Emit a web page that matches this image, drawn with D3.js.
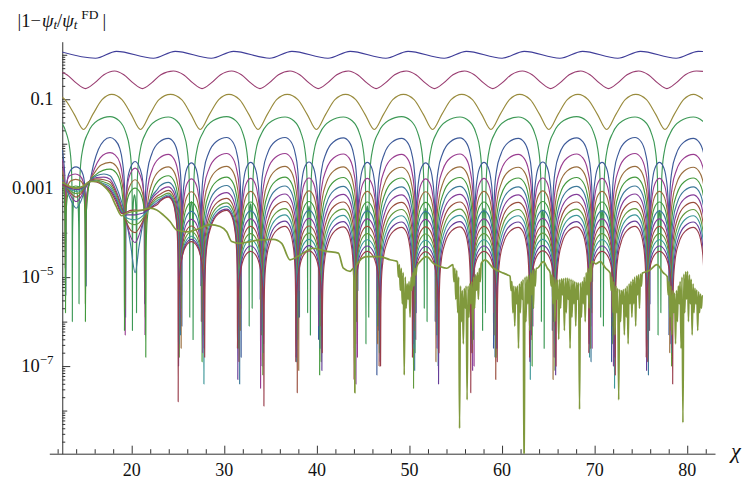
<!DOCTYPE html>
<html>
<head>
<meta charset="utf-8">
<script src="https://cdn.jsdelivr.net/npm/d3@7/dist/d3.min.js"></script>
<style>
html,body{margin:0;padding:0;background:#fff;}
svg{display:block;}
</style>
</head>
<body>
<svg id="chart" width="745" height="479"></svg>
<script>
// ================= values =================
const chiRange = [11.1, 83.0];            // horizontal plot range (chi)
const logRange = [-8.97, 0.294];          // vertical plot range, log10 |1 - psi_t/psi_t^FD|
const chiFirst = 12.5, chiLast = 81.7;    // sampled interval of all curves

const xMajorTicks = [20, 30, 40, 50, 60, 70, 80];
const xMinorTicks = [12,14,16,18,22,24,26,28,32,34,36,38,42,44,46,48,52,54,56,58,62,64,66,68,72,74,76,78,82];
const yLabelTicks = [1e-1, 1e-3, 1e-5, 1e-7];
const yTickLabels = [["0.1", ""], ["0.001", ""], ["10", "\u22125"], ["10", "\u22127"]];
const yOtherDecades = [1e0, 1e-2, 1e-4, 1e-6, 1e-8];
const yMinorMantissas = [2, 3, 4, 5, 6, 7, 8, 9];
const yMinorDecades = [1e-9, 1e-8, 1e-7, 1e-6, 1e-5, 1e-4, 1e-3, 1e-2, 1e-1, 1e0];

// curve 0 (top, blue): [chi, log10 value] at extrema
const curve0 = [12.2,0.078, 16.1,-0.078, 18.35,0.078, 22.35,-0.078, 24.7,0.078, 28.6,-0.078, 31.0,0.078,
  34.9,-0.078, 37.3,0.078, 41.2,-0.078, 43.6,0.078, 47.45,-0.078, 49.85,0.078, 53.75,-0.078, 56.15,0.078,
  60.0,-0.078, 62.4,0.078, 66.25,-0.078, 68.7,0.078, 72.5,-0.078, 74.95,0.078, 78.8,-0.078, 81.2,0.078, 82.5,0.06];

// curve 1 (magenta)
const curve1 = [12.0,-0.364, 13.0,-0.447, 14.0,-0.632, 15.0,-0.76, 16.0,-0.632, 17.0,-0.447, 18.15,-0.364,
  19.15,-0.447, 20.15,-0.632, 21.15,-0.76, 22.15,-0.632, 23.15,-0.447, 24.5,-0.364, 25.6,-0.447, 26.6,-0.632,
  27.6,-0.76, 28.6,-0.632, 29.6,-0.447, 30.8,-0.364, 31.85,-0.447, 32.85,-0.632, 33.85,-0.76, 34.85,-0.632,
  35.85,-0.447, 37.1,-0.364, 38.15,-0.447, 39.15,-0.632, 40.15,-0.76, 41.15,-0.632, 42.15,-0.447, 43.4,-0.364,
  44.4,-0.447, 45.4,-0.632, 46.4,-0.76, 47.4,-0.632, 48.4,-0.447, 49.65,-0.364, 50.7,-0.447, 51.7,-0.632,
  52.7,-0.76, 53.7,-0.632, 54.7,-0.447, 55.95,-0.364, 57.0,-0.447, 58.0,-0.632, 59.0,-0.76, 60.0,-0.632,
  61.0,-0.447, 62.2,-0.364, 63.25,-0.447, 64.25,-0.632, 65.25,-0.76, 66.25,-0.632, 67.25,-0.447, 68.5,-0.364,
  69.5,-0.447, 70.5,-0.632, 71.5,-0.76, 72.5,-0.632, 73.5,-0.447, 74.75,-0.364, 75.8,-0.447, 76.8,-0.632,
  77.8,-0.76, 78.8,-0.632, 79.8,-0.447, 81.0,-0.364, 82.0,-0.38];

// curve 2 (gold)
const curve2 = [11.7,-0.89, 12.8,-1.01, 13.8,-1.34, 14.8,-1.68, 15.8,-1.34, 16.8,-1.01, 17.85,-0.89,
  18.95,-1.01, 19.95,-1.34, 20.95,-1.68, 21.95,-1.34, 22.95,-1.01, 24.2,-0.89, 25.4,-1.01, 26.4,-1.34,
  27.4,-1.68, 28.4,-1.34, 29.4,-1.01, 30.5,-0.89, 31.65,-1.01, 32.65,-1.34, 33.65,-1.68, 34.65,-1.34,
  35.65,-1.01, 36.8,-0.89, 37.95,-1.01, 38.95,-1.34, 39.95,-1.68, 40.95,-1.34, 41.95,-1.01, 43.1,-0.89,
  44.2,-1.01, 45.2,-1.34, 46.2,-1.68, 47.2,-1.34, 48.2,-1.01, 49.35,-0.89, 50.5,-1.01, 51.5,-1.34,
  52.5,-1.68, 53.5,-1.34, 54.5,-1.01, 55.65,-0.89, 56.8,-1.01, 57.8,-1.34, 58.8,-1.68, 59.8,-1.34,
  60.8,-1.01, 61.9,-0.89, 63.05,-1.01, 64.05,-1.34, 65.05,-1.68, 66.05,-1.34, 67.05,-1.01, 68.2,-0.89,
  69.3,-1.01, 70.3,-1.34, 71.3,-1.68, 72.3,-1.34, 73.3,-1.01, 74.45,-0.89, 75.6,-1.01, 76.6,-1.34,
  77.6,-1.68, 78.6,-1.34, 79.6,-1.01, 80.7,-0.89, 81.8,-1.01];

// oscillation landmarks
const bigTopChi   = [17.66, 23.96, 30.26, 36.56, 42.86, 49.16, 55.46, 61.76, 68.06, 74.36, 80.66];
const smallMidChi = [13.95, 20.37, 26.45, 32.85, 39.15, 45.45, 51.75, 58.05, 64.4, 70.8, 77.0, 83.3];
// measured arch profile: fraction of the half-arch from a zero, and drop (decades) below the top
const archFrac = [0.012, 0.04, 0.12, 0.3, 0.6];
const archDrop = [-1.8, -1.2, -0.73, -0.35, -0.09];

// curve 3 (green, outer arches)
const g3TopChi  = [11.36, 17.66, 23.96, 30.26, 36.56, 42.86, 49.16, 55.46, 61.76, 68.06, 74.36, 80.66];
const g3TopL    = [-1.40, -1.39, -1.40, -1.39, -1.40, -1.40, -1.39, -1.40, -1.40, -1.39, -1.40, -1.40];
const g3ZeroMid = [7.65, 13.95, 20.3, 26.45, 32.85, 39.15, 45.45, 51.75, 58.05, 64.4, 70.8, 77.0, 83.3];
const g3HalfGap = [0.15, 0.36, 0.22, 0.18, 0.16, 0.15, 0.15, 0.15, 0.15, 0.15, 0.15, 0.15, 0.15];
const g3TinyL   = [-3.3, -3.0, -3.15, -3.3, -3.35, -3.4, -3.4, -3.45, -3.45, -3.5, -3.5, -3.5, -3.5];
const g3SpikeL  = [[-5.0,-5.2],[-6.0,-5.6],[-6.2,-5.8],[-5.9,-6.4],[-6.1,-5.7],[-5.8,-6.3],[-6.5,-5.9],
  [-5.7,-6.0],[-6.2,-5.8],[-6.0,-6.6],[-5.9,-6.1],[-6.3,-5.8],[-5.5,-5.5]];

// curves 4..14 (nested arches): start of the plot, read point by point
const nestStart = [
  [12.5,-2.14, 12.65,-2.38, 12.78,-2.75, 12.85,-3.3, 12.88,-5.4, 12.91,-3.3, 12.98,-2.95, 13.2,-2.68, 13.6,-2.55, 14.0,-2.52, 14.4,-2.56, 14.75,-2.7, 14.95,-3.0, 15.05,-3.5, 15.08,-5.2, 15.11,-3.5, 15.2,-3.1, 15.5,-2.84, 15.9,-2.45, 16.4,-2.13, 17.0,-1.93, 17.66,-1.86, 18.2,-1.92, 18.7,-2.1, 19.0,-2.4, 19.2,-2.85, 19.3,-3.5, 19.34,-5.9, 19.38,-3.5, 19.5,-2.9, 19.8,-2.58, 20.37,-2.40, 20.9,-2.56, 21.2,-2.85, 21.33,-3.3],
  [12.5,-2.35, 12.65,-2.6, 12.78,-3.1, 12.83,-4.8, 12.88,-3.1, 13.0,-2.85, 13.3,-2.72, 13.9,-2.68, 14.4,-2.72, 14.75,-2.85, 14.95,-3.2, 15.03,-4.6, 15.1,-3.3, 15.25,-3.0, 15.5,-2.84, 16.0,-2.55, 16.6,-2.32, 17.2,-2.22, 17.66,-2.20, 18.2,-2.25, 18.7,-2.42, 19.0,-2.72, 19.2,-3.2, 19.27,-3.8, 19.30,-6.3, 19.33,-3.8, 19.45,-3.1, 19.8,-2.7, 20.37,-2.55, 20.9,-2.7, 21.25,-3.0, 21.38,-3.5],
  [12.5,-2.6, 12.7,-2.9, 12.8,-3.5, 12.84,-5.0, 12.9,-3.4, 13.05,-3.0, 13.4,-2.84, 13.95,-2.80, 14.5,-2.84, 14.85,-3.0, 14.97,-3.5, 15.0,-5.6, 15.06,-3.5, 15.25,-3.05, 15.5,-2.84, 16.0,-2.65, 16.7,-2.48, 17.66,-2.42, 18.3,-2.5, 18.8,-2.75, 19.1,-3.1, 19.22,-3.6, 19.26,-5.7, 19.3,-3.6, 19.45,-3.2, 19.8,-2.95, 20.37,-2.81, 20.9,-2.95, 21.3,-3.25, 21.43,-3.7],
  [12.5,-2.75, 12.7,-3.1, 12.8,-3.7, 12.85,-5.8, 12.9,-3.6, 13.1,-3.15, 13.5,-3.0, 13.95,-2.95, 14.5,-3.0, 14.85,-3.2, 14.97,-3.8, 15.0,-6.0, 15.05,-3.8, 15.25,-3.15, 15.5,-2.84, 16.1,-2.7, 16.9,-2.6, 17.66,-2.57, 18.3,-2.65, 18.8,-2.9, 19.05,-3.3, 19.18,-3.9, 19.22,-6.2, 19.27,-3.9, 19.45,-3.35, 19.8,-3.1, 20.37,-3.0, 20.9,-3.1, 21.3,-3.4, 21.46,-3.9],
  [12.5,-2.8, 13.0,-3.05, 13.5,-3.3, 14.0,-3.45, 14.5,-3.3, 15.0,-3.0, 15.5,-2.84, 16.2,-2.72, 17.0,-2.68, 17.66,-2.72, 18.3,-2.95, 18.9,-3.3, 19.4,-3.7, 19.9,-4.3, 20.37,-4.9, 20.8,-4.3, 21.3,-3.7, 21.8,-3.35, 22.3,-3.15, 22.8,-3.02],
  [12.5,-2.83, 13.0,-3.0, 13.5,-3.2, 14.0,-3.3, 14.5,-3.2, 15.0,-2.98, 15.5,-2.84, 16.2,-2.76, 17.0,-2.75, 17.66,-2.8, 18.3,-3.05, 18.9,-3.4, 19.4,-3.75, 19.9,-4.1, 20.37,-4.22, 20.8,-4.05, 21.3,-3.7, 21.8,-3.4, 22.3,-3.2, 22.8,-3.1],
  [12.5,-2.86, 13.0,-3.0, 13.5,-3.13, 14.0,-3.2, 14.5,-3.13, 15.0,-2.96, 15.5,-2.84, 16.2,-2.79, 17.0,-2.81, 17.66,-2.86, 18.3,-3.1, 18.9,-3.45, 19.4,-3.75, 19.9,-3.95, 20.37,-4.0, 20.8,-3.9, 21.3,-3.7, 21.8,-3.45, 22.3,-3.27, 22.8,-3.17],
  [12.5,-2.88, 13.0,-2.99, 13.5,-3.08, 14.0,-3.12, 14.5,-3.08, 15.0,-2.95, 15.5,-2.84, 16.2,-2.82, 17.0,-2.86, 17.66,-2.92, 18.3,-3.15, 18.9,-3.48, 19.4,-3.7, 19.9,-3.8, 20.37,-3.82, 20.8,-3.78, 21.3,-3.65, 21.8,-3.47, 22.3,-3.32, 22.8,-3.22],
  [12.5,-2.9, 13.0,-2.98, 13.5,-3.04, 14.0,-3.07, 14.5,-3.04, 15.0,-2.94, 15.5,-2.84, 16.2,-2.84, 17.0,-2.9, 17.66,-2.97, 18.3,-3.2, 18.9,-3.52, 19.4,-3.66, 19.9,-3.7, 20.37,-3.71, 20.8,-3.68, 21.3,-3.6, 21.8,-3.48, 22.3,-3.36, 22.8,-3.27],
  [12.5,-2.91, 13.0,-2.97, 13.5,-3.01, 14.0,-3.03, 14.5,-3.01, 15.0,-2.93, 15.5,-2.84, 16.2,-2.85, 17.0,-2.93, 17.66,-3.02, 18.3,-3.25, 18.9,-3.55, 19.4,-3.6, 19.9,-3.6, 20.37,-3.6, 20.8,-3.58, 21.3,-3.55, 21.8,-3.48, 22.3,-3.4, 22.8,-3.32],
  [12.5,-2.92, 13.0,-2.96, 13.5,-2.99, 14.0,-3.0, 14.5,-2.99, 15.0,-2.92, 15.5,-2.84, 16.2,-2.86, 17.0,-2.95, 17.66,-3.06, 18.3,-3.3, 18.9,-3.57, 19.4,-3.54, 19.9,-3.5, 20.37,-3.49, 20.8,-3.5, 21.3,-3.5, 21.8,-3.47, 22.3,-3.42, 22.8,-3.36]
];
const nestHalfWidth = [1.03, 1.07, 1.11, 1.15, 1.19, 1.23, 1.27, 1.31, 1.35, 1.39, 1.43];
const nestBigTopL = [
  [-1.88,-1.86,-1.86,-1.87,-1.88,-1.87,-1.88,-1.87,-1.86,-1.88],
  [-2.24,-2.22,-2.22,-2.23,-2.24,-2.23,-2.24,-2.23,-2.22,-2.24],
  [-2.52,-2.51,-2.51,-2.52,-2.53,-2.52,-2.53,-2.52,-2.51,-2.53],
  [-2.72,-2.75,-2.75,-2.76,-2.77,-2.76,-2.77,-2.76,-2.75,-2.77],
  [-2.87,-2.94,-2.95,-2.96,-2.97,-2.96,-2.97,-2.96,-2.95,-2.97],
  [-2.97,-3.10,-3.13,-3.14,-3.15,-3.14,-3.15,-3.14,-3.13,-3.15],
  [-3.05,-3.23,-3.30,-3.31,-3.32,-3.31,-3.32,-3.31,-3.30,-3.32],
  [-3.11,-3.33,-3.46,-3.47,-3.48,-3.47,-3.48,-3.47,-3.46,-3.48],
  [-3.15,-3.41,-3.60,-3.61,-3.62,-3.61,-3.62,-3.61,-3.60,-3.62],
  [-3.18,-3.47,-3.74,-3.75,-3.76,-3.75,-3.76,-3.75,-3.74,-3.76],
  [-3.20,-3.50,-3.86,-3.87,-3.88,-3.87,-3.88,-3.87,-3.86,-3.88]
];
const nestSmallTopL = [
  [-2.43,-2.42,-2.41,-2.42,-2.43,-2.42,-2.41,-2.42,-2.42],
  [-2.79,-2.78,-2.77,-2.78,-2.79,-2.78,-2.77,-2.78,-2.78],
  [-3.08,-3.07,-3.06,-3.07,-3.08,-3.07,-3.06,-3.07,-3.07],
  [-3.32,-3.31,-3.30,-3.31,-3.32,-3.31,-3.30,-3.31,-3.31],
  [-3.52,-3.51,-3.50,-3.51,-3.52,-3.51,-3.50,-3.51,-3.51],
  [-3.70,-3.69,-3.68,-3.69,-3.70,-3.69,-3.68,-3.69,-3.69],
  [-3.85,-3.86,-3.85,-3.86,-3.87,-3.86,-3.85,-3.86,-3.86],
  [-3.98,-4.02,-4.01,-4.02,-4.03,-4.02,-4.01,-4.02,-4.02],
  [-4.08,-4.16,-4.15,-4.16,-4.17,-4.16,-4.15,-4.16,-4.16],
  [-4.15,-4.30,-4.29,-4.30,-4.31,-4.30,-4.29,-4.30,-4.30],
  [-4.20,-4.42,-4.41,-4.42,-4.43,-4.42,-4.41,-4.42,-4.42]
];
const nestSpikeL = [
  [-5.6,-6.1,-5.2,-6.8,-5.5,-5.9,-6.4,-5.3,-7.2,-5.8,-6.0,-5.4,-6.6,-5.7,-6.2,-5.1,-6.9,-5.6,-6.3,-5.5],
  [-6.3,-5.4,-6.0,-5.7,-7.5,-5.3,-6.1,-6.8,-5.6,-6.4,-5.2,-7.0,-5.8,-6.1,-5.5,-6.6,-5.9,-6.2,-5.4,-6.0],
  [-5.9,-6.6,-5.5,-6.2,-5.8,-7.1,-5.4,-6.0,-6.5,-5.6,-6.9,-5.7,-6.3,-5.2,-7.3,-5.8,-6.1,-5.5,-6.7,-5.9],
  [-6.8,-5.7,-6.9,-5.6,-6.3,-5.9,-7.2,-5.5,-6.1,-6.7,-5.8,-6.4,-5.6,-7.0,-6.0,-5.7,-6.5,-6.2,-5.8,-6.1],
  [-6.0,-6.3,-5.8,-7.4,-6.2,-5.9,-6.6,-6.0,-5.7,-7.1,-6.3,-5.9,-6.8,-6.1,-5.8,-6.9,-6.0,-7.2,-5.9,-6.2],
  [-6.2,-5.9,-6.7,-6.1,-7.0,-6.4,-5.9,-7.4,-6.2,-6.0,-6.6,-7.1,-5.9,-6.3,-6.8,-6.1,-7.0,-5.9,-6.5,-6.3],
  [-6.4,-6.2,-6.0,-6.9,-6.3,-7.6,-6.1,-6.5,-7.0,-6.2,-6.0,-6.7,-7.3,-6.4,-6.1,-6.6,-6.3,-6.9,-6.2,-6.5],
  [-6.5,-6.8,-6.3,-6.6,-7.2,-6.4,-6.9,-6.2,-6.7,-7.5,-6.3,-6.5,-6.8,-6.2,-7.1,-6.6,-6.4,-6.3,-7.0,-6.6],
  [-6.6,-6.5,-7.4,-6.4,-6.7,-6.9,-6.3,-7.2,-6.5,-6.6,-7.0,-6.4,-6.6,-7.3,-6.5,-6.8,-7.5,-6.4,-6.7,-6.7],
  [-6.7,-7.0,-6.6,-7.3,-6.5,-6.8,-7.1,-6.6,-6.9,-6.5,-7.4,-6.7,-6.6,-6.9,-7.2,-6.5,-6.8,-7.1,-6.6,-6.8],
  [-6.9,-7.8,-6.8,-6.6,-7.9,-6.9,-6.7,-7.3,-7.0,-6.8,-6.7,-7.6,-6.9,-6.8,-7.0,-6.7,-7.2,-6.8,-7.4,-6.9]
];

// curve 15 (olive, limiting curve): smooth stretches as [chi, log10]
const oliveSmooth = [
  [12.5,-2.86, 13.2,-2.95, 14.0,-3.0, 14.8,-2.95, 15.5,-2.85, 16.3,-2.85, 17.0,-2.95, 17.66,-3.11, 18.3,-3.4,
   18.92,-3.62, 19.4,-3.57, 20.0,-3.53, 21.0,-3.5, 21.98,-3.45, 22.7,-3.49, 23.4,-3.6, 24.14,-3.75, 24.86,-3.94,
   25.94,-3.98, 26.7,-3.95, 27.38,-3.90, 28.46,-3.82, 29.55,-3.86, 30.26,-3.98, 30.8,-4.20, 31.7,-4.24,
   32.78,-4.20, 33.86,-4.16, 35.3,-4.15, 36.2,-4.24, 37.1,-4.61, 38.19,-4.50, 39.62,-4.35, 41.07,-4.42,
   42.32,-4.46, 42.86,-4.80, 43.59,-4.87, 43.95,-4.8, 44.05,-6.0, 44.1,-7.6, 44.15,-5.2, 44.25,-4.74,
   45.39,-4.54, 46.83,-4.54, 47.91,-4.61, 48.6,-4.64],
  [51.15,-4.65, 51.87,-4.54, 52.59,-4.69, 53.3,-4.76, 54.04,-4.80],
  [58.17,-4.61, 59.07,-4.80, 60.15,-4.91, 60.6,-4.95],
  [64.47,-4.65, 64.9,-4.8],
  [70.1,-4.7, 70.6,-4.65, 71.2,-4.8],
  [75.9,-4.85, 76.73,-4.72, 77.4,-4.9]
];
// noisy stretches: first and last chi, then evenly spaced log10 samples
const oliveNoiseSpan = [[48.7, 50.8], [54.7, 57.85], [60.87, 63.79], [65.2, 69.8], [71.68, 75.25], [77.84, 81.73]];
const oliveNoise = [
  [-4.66,-5.0,-4.72,-5.3,-4.8,-5.6,-4.9,-7.2,-5.0,-5.7,-5.15,-5.5,-5.1,-5.9,-5.0,-5.3,-4.9,-5.2,-4.8,-4.95,-4.76],
  [-4.72,-5.1,-4.8,-5.5,-4.85,-5.8,-5.0,-8.4,-5.2,-6.0,-5.3,-6.5,-5.25,-5.7,-5.2,-7.76,-5.2,-5.9,-5.15,-5.6,-5.1,-6.2,-5.0,-5.7,-4.95,-5.3,-4.9,-5.5,-4.8,-5.1,-4.7,-4.66],
  [-4.98,-5.3,-5.1,-5.8,-5.2,-6.1,-5.22,-5.6,-5.2,-6.6,-5.15,-5.8,-5.1,-5.5,-5.05,-9.6,-5.0,-6.0,-4.98,-5.6,-4.95,-6.2,-4.9,-5.4,-4.85,-5.7,-4.82,-5.2,-4.8,-4.8],
  [-4.9,-5.2,-4.95,-5.6,-5.0,-6.0,-5.05,-5.5,-5.06,-6.4,-5.05,-5.7,-5.04,-5.4,-5.03,-6.2,-5.02,-5.8,-5.02,-5.5,-5.03,-6.6,-5.05,-5.9,-5.07,-5.6,-5.1,-6.1,-5.12,-5.5,-5.13,-7.97,-5.13,-5.9,-5.1,-5.6,-5.0,-6.0,-4.9,-5.4,-4.8,-5.7,-4.7,-5.1,-4.66,-4.65],
  [-4.91,-5.3,-5.0,-5.8,-5.1,-6.3,-5.2,-5.8,-5.25,-7.76,-5.28,-6.0,-5.3,-5.6,-5.28,-6.3,-5.25,-5.9,-5.2,-6.5,-5.15,-5.6,-5.1,-5.9,-5.05,-5.6,-5.0,-6.1,-4.97,-5.4,-4.95,-5.7,-4.93,-5.2,-4.91,-4.9],
  [-4.99,-5.4,-5.1,-5.9,-5.2,-6.3,-5.3,-5.8,-5.36,-6.5,-5.3,-6.0,-5.2,-5.6,-5.1,-6.6,-5.0,-8.27,-4.93,-5.8,-4.88,-5.5,-4.87,-6.0,-4.95,-5.6,-5.05,-6.3,-5.15,-5.8,-5.25,-5.6,-5.29,-6.2,-5.33,-5.8,-5.38,-5.7,-5.42,-5.44]
];

// Mathematica default plot colours, in drawing order
const curveColors = ["#3f3d99","#993d71","#998b3d","#3d9956","#3d5a99","#993d90","#996d3d","#43993d",
  "#3d7999","#843d99","#994e3d","#62993d","#3d9799","#653d99","#993d4b","#80993d"];

// ================= assembling the series =================
const pairs = a => { const r = []; for (let i = 0; i < a.length; i += 2) r.push([a[i], a[i + 1]]); return r; };
function arch(a, t, b, P) {
  const pts = [];
  archFrac.forEach((f, i) => pts.push([a + f * (t - a), P + archDrop[i]]));
  pts.push([t, P]);
  for (let i = archFrac.length - 1; i >= 0; i--) pts.push([b - archFrac[i] * (b - t), P + archDrop[i]]);
  return pts;
}

const series = [];
series.push(pairs(curve0), pairs(curve1), pairs(curve2));

(function () {
  const pts = [];
  for (let i = 0; i < g3ZeroMid.length; i++) {
    const z1 = g3ZeroMid[i] - g3HalfGap[i], z2 = g3ZeroMid[i] + g3HalfGap[i];
    if (i > 0) pts.push(...arch(g3ZeroMid[i - 1] + g3HalfGap[i - 1], g3TopChi[i - 1], z1, g3TopL[i - 1]));
    pts.push([z1, g3SpikeL[i][0]]);
    pts.push(...arch(z1, g3ZeroMid[i], z2, g3TinyL[i]));
    pts.push([z2, g3SpikeL[i][1]]);
  }
  series.push(pts);
})();

nestStart.forEach((start, c) => {
  const pts = pairs(start);
  const last = pts[pts.length - 1][0];
  const h = nestHalfWidth[c];
  const tail = [];
  let j = 0;
  for (let n = 1; n <= 10; n++) {
    const zL = smallMidChi[n] + h, zR = smallMidChi[n + 1] - h;
    tail.push([zL, nestSpikeL[c][j++]]);
    tail.push(...arch(zL, bigTopChi[n], zR, nestBigTopL[c][n - 1]));
    tail.push([zR, nestSpikeL[c][j++]]);
    if (n < 10) tail.push(...arch(zR, smallMidChi[n + 1], smallMidChi[n + 1] + h, nestSmallTopL[c][n - 1]));
  }
  tail.forEach(p => { if (p[0] > last) pts.push(p); });
  series.push(pts);
});

(function () {
  let pts = pairs(oliveSmooth[0]);
  oliveNoise.forEach((vals, i) => {
    const [a, b] = oliveNoiseSpan[i];
    vals.forEach((v, k) => pts.push([a + (b - a) * k / (vals.length - 1), v]));
    if (oliveSmooth[i + 1]) pts = pts.concat(pairs(oliveSmooth[i + 1]));
  });
  series.push(pts);
})();

// ================= drawing =================
const FONT = "'Liberation Serif'";
const svg = d3.select("#chart");
const x = d3.scaleLinear().domain(chiRange).range([49.3, 715]);
const y = d3.scaleLog().domain(logRange.map(v => Math.pow(10, v))).range([453.7, 41.7]);
const axisColor = "#333";
const yAxisX = x(chiFirst);

svg.append("defs").append("clipPath").attr("id", "plotclip").append("rect")
  .attr("x", x(chiFirst)).attr("y", y.range()[1])
  .attr("width", x(chiLast) - x(chiFirst)).attr("height", y.range()[0] - y.range()[1]);

const xAxisY = y.range()[0];
svg.append("g").attr("transform", `translate(0,${xAxisY})`)
  .call(d3.axisBottom(x).tickValues(xMinorTicks).tickSize(-4.5).tickSizeOuter(0).tickFormat(""));
const gxM = svg.append("g").attr("transform", `translate(0,${xAxisY})`)
  .call(d3.axisBottom(x).tickValues(xMajorTicks).tickSize(-8).tickSizeOuter(0).tickFormat(""));
gxM.select(".domain").remove();
svg.append("g").selectAll("text").data(xMajorTicks).join("text")
  .attr("x", d => x(d)).attr("y", 476.3).attr("text-anchor", "middle")
  .attr("font-family", FONT).attr("font-size", 18).attr("fill", "#111").text(d => d);

const yMinor = [];
yMinorDecades.forEach(dec => yMinorMantissas.forEach(m => {
  const v = m * dec; if (v >= y.domain()[0] && v <= y.domain()[1]) yMinor.push(v);
}));
svg.append("g").attr("transform", `translate(${yAxisX},0)`)
  .call(d3.axisLeft(y).tickValues(yMinor).tickSize(-3).tickSizeOuter(0).tickFormat(""));
const gyd = svg.append("g").attr("transform", `translate(${yAxisX},0)`)
  .call(d3.axisLeft(y).tickValues(yOtherDecades.filter(v => v >= y.domain()[0] && v <= y.domain()[1]))
    .tickSize(-5).tickSizeOuter(0).tickFormat(""));
gyd.select(".domain").remove();
const gyl = svg.append("g").attr("transform", `translate(${yAxisX},0)`)
  .call(d3.axisLeft(y).tickValues(yLabelTicks).tickSize(-8).tickSizeOuter(0).tickFormat(""));
gyl.select(".domain").remove();
svg.selectAll(".tick line, .domain").attr("stroke", axisColor).attr("stroke-width", 1);

const ylab = svg.append("g").selectAll("text").data(yLabelTicks).join("text")
  .attr("x", 53.5).attr("y", d => y(d) + 6).attr("text-anchor", "end")
  .attr("font-family", FONT).attr("font-size", 18.5).attr("fill", "#111");
ylab.append("tspan").text((d, i) => yTickLabels[i][0]);
ylab.filter((d, i) => yTickLabels[i][1] !== "").append("tspan")
  .attr("dy", -8.5).attr("font-size", 13).text(d => yTickLabels[yLabelTicks.indexOf(d)][1]);

const line = d3.line().x(d => x(d[0])).y(d => y(Math.pow(10, d[1]))).curve(d3.curveMonotoneX);
svg.append("g").attr("clip-path", "url(#plotclip)")
  .selectAll("path").data(series).join("path")
  .attr("d", d => line(d)).attr("fill", "none")
  .attr("stroke", (d, i) => curveColors[i])
  .attr("stroke-width", (d, i) => i === series.length - 1 ? 1.7 : 1.15)
  .attr("stroke-linejoin", "round");

// axis titles (flowing text, sub/superscripts by baseline shifts)
const title = svg.append("text").attr("x", 17.5).attr("y", 26.7)
  .attr("font-family", FONT).attr("font-size", 18.5).attr("fill", "#111");
title.append("tspan").text("|1\u2212");
title.append("tspan").attr("dx", 1).attr("font-style", "italic").text("\u03C8");
title.append("tspan").attr("dy", 1.9).attr("font-size", 13).attr("font-style", "italic").text("t");
title.append("tspan").attr("dy", -1.9).text("/");
title.append("tspan").attr("font-style", "italic").text("\u03C8");
title.append("tspan").attr("dy", 1.9).attr("font-size", 13).attr("font-style", "italic").text("t");
title.append("tspan").attr("dx", 4).attr("dy", -10.1).attr("font-size", 13.5).text("FD");
title.append("tspan").attr("dx", 4).attr("dy", 8.2).text("|");

svg.append("text").attr("x", 731).attr("y", 458).attr("font-family", FONT).attr("font-size", 22)
  .attr("font-style", "italic").attr("fill", "#111").text("\u03C7");
</script>
</body>
</html>
